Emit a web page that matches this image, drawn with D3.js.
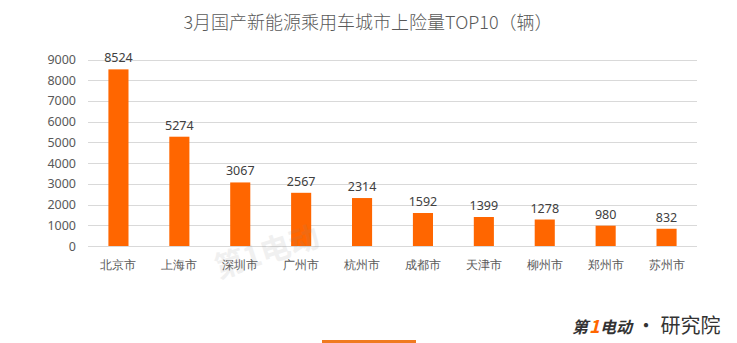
<!DOCTYPE html>
<html>
<head>
<meta charset="utf-8">
<script src="https://cdn.jsdelivr.net/npm/d3@7/dist/d3.min.js"></script>
<style>
  body { margin: 0; background: #fff; }
  svg { display: block; font-family: "Microsoft YaHei", "Noto Sans CJK SC", sans-serif; }
</style>
</head>
<body>
<svg id="chart" width="737" height="343"></svg>
<script>
const cities = ["北京市", "上海市", "深圳市", "广州市", "杭州市", "成都市", "天津市", "柳州市", "郑州市", "苏州市"];
const registrations = [8524, 5274, 3067, 2567, 2314, 1592, 1399, 1278, 980, 832];
const yTicks = [0, 1000, 2000, 3000, 4000, 5000, 6000, 7000, 8000, 9000];
const title = "3月国产新能源乘用车城市上险量TOP10（辆）";

const svg = d3.select("#chart");
const margin = { left: 88, right: 40, top: 59.5, bottom: 97 };
const W = 737, H = 343;

const x = d3.scaleBand()
  .domain(cities)
  .range([margin.left, W - margin.right])
  .paddingInner(0.67)
  .paddingOuter(0.335);

const y = d3.scaleLinear()
  .domain([0, 9000])
  .range([H - margin.bottom, margin.top]);

// title
svg.append("text")
  .attr("x", 368).attr("y", 29)
  .attr("text-anchor", "middle")
  .attr("font-size", 18)
  .attr("font-weight", 300)
  .attr("fill", "#595959")
  .text(title);

// gridlines
svg.append("g")
  .selectAll("line")
  .data(yTicks)
  .join("line")
  .attr("x1", margin.left).attr("x2", W - margin.right)
  .attr("y1", d => Math.round(y(d)) + 0.5).attr("y2", d => Math.round(y(d)) + 0.5)
  .attr("stroke", "#d9d9d9").attr("stroke-width", 1);

// y axis labels
const yAxis = d3.axisLeft(y).tickValues(yTicks).tickFormat(d3.format("d")).tickSize(0).tickPadding(12);
svg.append("g")
  .attr("transform", `translate(${margin.left},0)`)
  .call(yAxis)
  .call(g => g.select(".domain").remove())
  .call(g => g.selectAll("text")
    .attr("font-size", 12.5)
    .attr("fill", "#595959")
    .attr("font-family", "'Noto Sans', sans-serif"));

// x axis labels
const xAxis = d3.axisBottom(x).tickSize(0).tickPadding(14);
svg.append("g")
  .attr("transform", `translate(0,${y(0)})`)
  .call(xAxis)
  .call(g => g.select(".domain").remove())
  .call(g => g.selectAll("text")
    .attr("font-size", 12)
    .attr("font-weight", 300)
    .attr("fill", "#595959"));

// bars
svg.append("g")
  .selectAll("rect")
  .data(cities)
  .join("rect")
  .attr("x", d => x(d))
  .attr("width", x.bandwidth())
  .attr("y", (d, i) => y(registrations[i]))
  .attr("height", (d, i) => y(0) - y(registrations[i]))
  .attr("fill", "#FF6600");

// value labels
svg.append("g")
  .selectAll("text")
  .data(cities)
  .join("text")
  .attr("x", d => x(d) + x.bandwidth() / 2)
  .attr("y", (d, i) => y(registrations[i]) - 7)
  .attr("text-anchor", "middle")
  .attr("font-size", 12.5)
  .attr("font-family", "'Noto Sans', sans-serif")
  .attr("fill", "#404040")
  .text((d, i) => registrations[i]);

// faint watermark in the plot area
svg.append("text")
  .attr("x", 270).attr("y", 262)
  .attr("text-anchor", "middle")
  .attr("font-size", 30)
  .attr("font-weight", "bold")
  .attr("fill", "#888")
  .attr("opacity", 0.12)
  .attr("transform", "rotate(-18,270,262)")
  .text("第1电动");

// brand mark at the lower right
const brand = svg.append("g").attr("transform", "translate(572,333)");
brand.append("text")
  .attr("x", 0).attr("y", 0)
  .attr("font-size", 16).attr("font-style", "italic").attr("font-weight", "bold")
  .attr("fill", "#333")
  .text("第");
brand.append("text")
  .attr("x", 17).attr("y", 0)
  .attr("font-size", 18).attr("font-style", "italic").attr("font-weight", "bold")
  .attr("fill", "#FF6600")
  .text("1");
brand.append("text")
  .attr("x", 28).attr("y", 0)
  .attr("font-size", 16).attr("font-style", "italic").attr("font-weight", "bold")
  .attr("fill", "#333")
  .text("电动");
brand.append("text")
  .attr("x", 64).attr("y", 0)
  .attr("font-size", 20)
  .attr("fill", "#333")
  .text("· 研究院");

// accent strip along the bottom edge
svg.append("rect")
  .attr("x", 322).attr("y", 340)
  .attr("width", 94).attr("height", 3)
  .attr("fill", "#F07A20");
</script>
</body>
</html>
